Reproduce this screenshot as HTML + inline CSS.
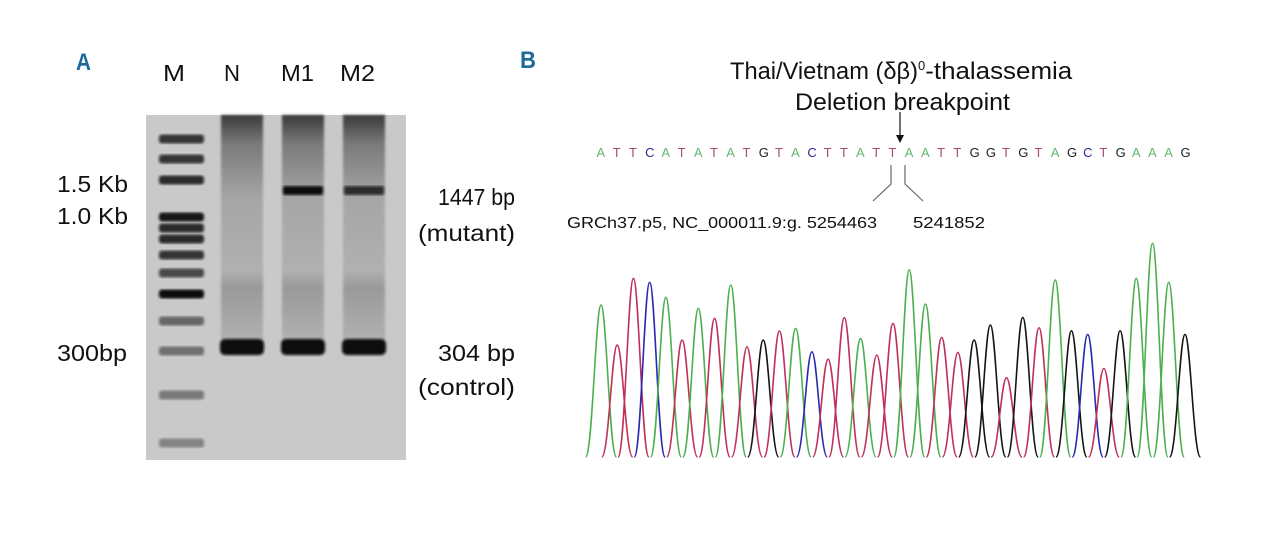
<!DOCTYPE html>
<html><head><meta charset="utf-8"><style>
html,body{margin:0;padding:0;background:#fff;}
svg{display:block;}
text{font-family:"Liberation Sans",sans-serif;}
</style></head><body>
<svg id="fig" width="1280" height="536" viewBox="0 0 1280 536" xmlns="http://www.w3.org/2000/svg">
<defs>
<filter id="blur1"><feGaussianBlur stdDeviation="1.2"/></filter>
<linearGradient id="smear" x1="0" y1="0" x2="0" y2="1">
<stop offset="0" stop-color="#3a3a3a"/><stop offset="0.12" stop-color="#7a7a7a"/><stop offset="0.35" stop-color="#a6a6a6"/><stop offset="0.65" stop-color="#b0b0b0"/><stop offset="0.72" stop-color="#999"/><stop offset="1" stop-color="#b8b8b8"/>
</linearGradient>
</defs>
<text x="76" y="70" font-size="24" font-weight="bold" fill="#1b6a98" textLength="15" lengthAdjust="spacingAndGlyphs">A</text>
<g font-size="23" fill="#111">
<text x="163" y="81" textLength="22" lengthAdjust="spacingAndGlyphs">M</text>
<text x="224" y="81" textLength="16" lengthAdjust="spacingAndGlyphs">N</text>
<text x="281" y="81" textLength="33" lengthAdjust="spacingAndGlyphs">M1</text>
<text x="340" y="81" textLength="35" lengthAdjust="spacingAndGlyphs">M2</text>
</g>
<g id="gel">
<rect x="146" y="115" width="260" height="345" fill="#c9c9c9"/>
</g>
<g font-size="23" fill="#111">
<text x="57" y="192" textLength="71" lengthAdjust="spacingAndGlyphs">1.5 Kb</text>
<text x="57" y="224" textLength="71" lengthAdjust="spacingAndGlyphs">1.0 Kb</text>
<text x="57" y="361" textLength="70" lengthAdjust="spacingAndGlyphs">300bp</text>
<text x="438" y="205" textLength="77" lengthAdjust="spacingAndGlyphs">1447 bp</text>
<text x="418" y="241" textLength="97" lengthAdjust="spacingAndGlyphs">(mutant)</text>
<text x="438" y="361" textLength="77" lengthAdjust="spacingAndGlyphs">304 bp</text>
<text x="418" y="395" textLength="97" lengthAdjust="spacingAndGlyphs">(control)</text>
</g>
<text x="520" y="68" font-size="24" font-weight="bold" fill="#1b6a98" textLength="16" lengthAdjust="spacingAndGlyphs">B</text>
<text x="730" y="79" font-size="24" fill="#111"><tspan textLength="188" lengthAdjust="spacingAndGlyphs">Thai/Vietnam (δβ)</tspan><tspan font-size="13" dy="-9">0</tspan><tspan dy="9" textLength="147" lengthAdjust="spacingAndGlyphs">-thalassemia</tspan></text>
<text x="795" y="110" font-size="24" fill="#111" textLength="215" lengthAdjust="spacingAndGlyphs">Deletion breakpoint</text>
<g>
<line x1="900" y1="112" x2="900" y2="136" stroke="#111" stroke-width="1.2"/>
<path d="M896,135 L904,135 L900,143 Z" fill="#111"/>
</g>
<g id="seq" font-size="13"></g>
<g fill="none" stroke="#666" stroke-width="1.2">
<path d="M891,165 L891,184 L873,201"/>
<path d="M905,165 L905,184 L923,201"/>
</g>
<text x="567" y="228" font-size="16" fill="#111" textLength="310" lengthAdjust="spacingAndGlyphs">GRCh37.p5, NC_000011.9:g. 5254463</text>
<text x="913" y="228" font-size="16" fill="#111" textLength="72" lengthAdjust="spacingAndGlyphs">5241852</text>
<g id="chrom"></g>
</svg>
<script>
// Gel data
const ladderY = [139,159,180,217,228,239,255,273,294,321,351,395,443];
const ladderStrength = [0.8,0.8,0.85,0.95,0.85,0.85,0.8,0.7,1,0.55,0.5,0.45,0.4];
const sampleLanes = ['N','M1','M2'];
const laneCenters = [242,303,364];
const mutantBand = [0,1,0.8];
const controlBand = [1,1,1];
// Chromatogram data
const bases = "ATTCATATATGTACTTATTAATTGGTGTAGCTGAAAG".split('');
const peakSignal = [455,335,535,523,478,350,445,415,515,330,350,377,385,315,293,417,355,305,400,560,458,358,313,350,395,237,418,387,530,378,367,265,378,535,640,523,367];
const baseColor = {A:'#4cb050',T:'#c0305a',C:'#2a2ab0',G:'#151515'};
const seqColor = {A:'#5fb870',T:'#a0506a',C:'#2a2a90',G:'#222'};

const NS='http://www.w3.org/2000/svg';
function mk(tag, attrs, parent){const e=document.createElementNS(NS,tag);for(const k in attrs)e.setAttribute(k,attrs[k]);parent.appendChild(e);return e;}

const gel=document.getElementById('gel');
ladderY.forEach((y,i)=>{
  const b=mk('rect',{x:159,y:y-4.5,width:45,height:9,rx:3,fill:'#111','fill-opacity':ladderStrength[i],filter:'url(#blur1)'},gel);
  
  
});
laneCenters.forEach((cx,i)=>{
  const s=mk('rect',{x:cx-21,y:115,width:42,height:240,fill:'url(#smear)',filter:'url(#blur1)'},gel);
  
  
  if(mutantBand[i]>0){
    const m=mk('rect',{x:cx-20,y:186,width:40,height:9,rx:2,fill:'#111','fill-opacity':mutantBand[i],filter:'url(#blur1)'},gel);
    
    
  }
  const c=mk('rect',{x:cx-22,y:339,width:44,height:16,rx:5,fill:'#0a0a0a','fill-opacity':controlBand[i],filter:'url(#blur1)'},gel);
  
  
});

// Chromatogram
const x0=601, step=(1185-601)/36, baseY=457, yk=0.334;
const xAt=i=>x0+i*step;
const yAt=v=>baseY-v*yk;
const seq=document.getElementById('seq');
bases.forEach((b,i)=>{
  const t=mk('text',{x:xAt(i)-4.5,y:157,fill:seqColor[b]},seq);
  t.textContent=b;
  
  
});
const chrom=document.getElementById('chrom');
peakSignal.forEach((v,i)=>{
  const x=xAt(i), y=yAt(v), w=step*0.95;
  const d=`M${x-w},${baseY} C${x-w*0.55},${baseY} ${x-w*0.35},${y} ${x},${y} C${x+w*0.35},${y} ${x+w*0.55},${baseY} ${x+w},${baseY}`;
  const p=mk('path',{d:d,fill:'none',stroke:baseColor[bases[i]],'stroke-width':1.6},chrom);
  
  
});
</script>
</body></html>
